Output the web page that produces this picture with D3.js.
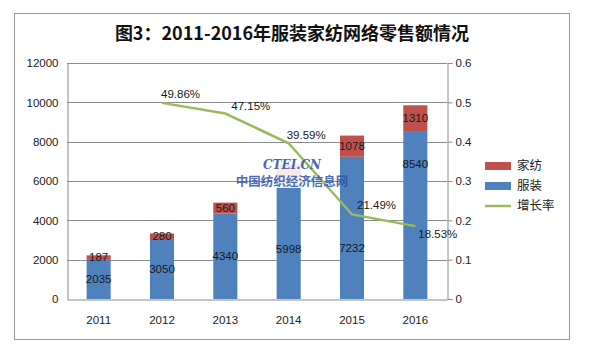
<!DOCTYPE html>
<html><head><meta charset="utf-8">
<script src="https://cdn.jsdelivr.net/npm/d3@7"></script>
<style>body{margin:0;background:#fff}svg{display:block}</style>
</head><body>
<svg id="c" width="591" height="352"></svg>
<script>
const years = ["2011","2012","2013","2014","2015","2016"];
const fuzhuang = [2035, 3050, 4340, 5998, 7232, 8540];
const jiafang = [187, 280, 560, 842, 1078, 1310];
const growthYears = ["2012","2013","2014","2015","2016"];
const growth = [0.4986, 0.4715, 0.3959, 0.2149, 0.1853];
const growthLabels = ["49.86%","47.15%","39.59%","21.49%","18.53%"];
const leftTicks = [0,2000,4000,6000,8000,10000,12000];
const rightTicks = [0,0.1,0.2,0.3,0.4,0.5,0.6];
const title = "图3：2011-2016年服装家纺网络零售额情况";
const legendNames = ["家纺","服装","增长率"];

const svg = d3.select("#c");
const m = {l:67, r:447, t:63, b:299};
const num = "'Liberation Sans', Arial, sans-serif";
const cjk = "'Noto Sans CJK SC', sans-serif";
const cBlue = "#4F81BD", cRed = "#C0504D", cGreen = "#9BBB59", cGrid = "#8c8c8c";

svg.append("rect").attr("x",14.5).attr("y",13.5).attr("width",555).attr("height",326)
  .attr("fill","#fff").attr("stroke","#999").attr("stroke-width",1);

svg.append("text").attr("x",292).attr("y",40).attr("text-anchor","middle")
  .attr("font-family",cjk).attr("font-weight","bold").attr("font-size",18).attr("fill","#111").text(title);

const x = d3.scaleBand().domain(years).range([m.l, m.r]).paddingInner(0.62).paddingOuter(0.31);
const y = d3.scaleLinear().domain([0,12000]).range([m.b, m.t]);
const y2 = d3.scaleLinear().domain([0,0.6]).range([m.b, m.t]);

// gridlines
svg.append("g").selectAll("line").data(leftTicks.filter(d=>d>0)).join("line")
  .attr("x1",m.l).attr("x2",m.r).attr("y1",d=>Math.round(y(d))+0.5).attr("y2",d=>Math.round(y(d))+0.5)
  .attr("stroke",cGrid).attr("stroke-width",1);

// left axis
const ga = svg.append("g").attr("transform",`translate(${m.l+0.5},0)`)
  .call(d3.axisLeft(y).tickValues(leftTicks).tickSize(0).tickPadding(9).tickFormat(d3.format("d")));
ga.select(".domain").attr("stroke",cGrid);
ga.selectAll("text").attr("font-family",num).attr("font-size",11.5).attr("fill","#222");

// right axis
const gr = svg.append("g").attr("transform",`translate(${m.r+0.5},0)`)
  .call(d3.axisRight(y2).tickValues(rightTicks).tickSize(5).tickPadding(3).tickFormat(d=>d===0?"0":d3.format(".1f")(d)));
gr.select(".domain").attr("stroke",cGrid);
gr.selectAll("line").attr("stroke",cGrid);
gr.selectAll("text").attr("font-family",num).attr("font-size",11.5).attr("fill","#222");

// bottom axis
const gb = svg.append("g").attr("transform",`translate(0,${m.b+0.5})`)
  .call(d3.axisBottom(x).tickSize(0).tickPadding(16));
gb.select(".domain").attr("stroke",cGrid);
gb.selectAll("text").attr("font-family",num).attr("font-size",11.5).attr("fill","#222");

// bars
const bars = svg.append("g");
bars.selectAll("rect.fz").data(years).join("rect").attr("class","fz")
  .attr("x",d=>x(d)).attr("width",x.bandwidth())
  .attr("y",(d,i)=>y(fuzhuang[i])).attr("height",(d,i)=>y(0)-y(fuzhuang[i])).attr("fill",cBlue);
bars.selectAll("rect.jf").data(years).join("rect").attr("class","jf")
  .attr("x",d=>x(d)).attr("width",x.bandwidth())
  .attr("y",(d,i)=>y(fuzhuang[i]+jiafang[i])).attr("height",(d,i)=>y(fuzhuang[i])-y(fuzhuang[i]+jiafang[i])).attr("fill",cRed);

// watermark backing
const wm = svg.append("g");
wm.append("rect").attr("x",272).attr("y",152).attr("width",36).attr("height",36).attr("fill","#fff").attr("opacity",0.88);

// line
const line = d3.line().x((d,i)=>x(growthYears[i])+x.bandwidth()/2).y(d=>y2(d));
svg.append("path").datum(growth).attr("d",line).attr("fill","none").attr("stroke",cGreen).attr("stroke-width",2.5);

const wt = svg.append("g");
wt.append("text").attr("x",292).attr("y",169).attr("text-anchor","middle")
  .attr("font-family","'DejaVu Serif', serif").attr("font-style","italic").attr("font-weight","bold")
  .attr("font-size",12).attr("fill","#2b4c9c").attr("opacity",0.85).text("CTEI.CN");
wt.append("text").attr("x",292).attr("y",186).attr("text-anchor","middle")
  .attr("font-family",cjk).attr("font-weight","bold").attr("font-size",12.5)
  .attr("fill","#2f55a8").attr("opacity",0.85).text("中国纺织经济信息网");

// bar labels
const fzShift = [0,0,0,9,20,-51];
svg.append("g").selectAll("text").data(years).join("text")
  .attr("x",d=>x(d)+x.bandwidth()/2).attr("y",(d,i)=>y(fuzhuang[i]/2)+fzShift[i]).attr("dy","0.35em")
  .attr("text-anchor","middle").attr("font-family",num).attr("font-size",11.5).attr("fill","#1a1a1a")
  .text((d,i)=>fuzhuang[i]);
svg.append("g").selectAll("text").data(years).join("text")
  .filter((d,i)=>i!==3)
  .attr("x",d=>x(d)+x.bandwidth()/2).attr("y",d=>{const i=years.indexOf(d);return y(fuzhuang[i]+jiafang[i]/2);}).attr("dy","0.35em")
  .attr("text-anchor","middle").attr("font-family",num).attr("font-size",11.5).attr("fill","#1a1a1a")
  .text(d=>jiafang[years.indexOf(d)]);

// growth labels
const gShiftY = [-9,-8,-8,-9,8];
const gShiftX = [-1,6,-2,5,3];
svg.append("g").selectAll("text").data(growth).join("text")
  .attr("x",(d,i)=>x(growthYears[i])+x.bandwidth()/2+gShiftX[i]).attr("y",(d,i)=>y2(d)+gShiftY[i])
  .attr("dy","0.35em").attr("font-family",num).attr("font-size",11.5).attr("fill","#1a1a1a")
  .text((d,i)=>growthLabels[i]);

// legend
const lg = svg.append("g").attr("transform","translate(485,166)");
legendNames.forEach((n,i)=>{
  const g = lg.append("g").attr("transform",`translate(0,${i*20})`);
  if(i<2) g.append("rect").attr("x",0).attr("y",-4).attr("width",26).attr("height",8).attr("fill",i===0?cRed:cBlue);
  else g.append("line").attr("x1",0).attr("x2",26).attr("y1",0).attr("y2",0).attr("stroke",cGreen).attr("stroke-width",2.5);
  g.append("text").attr("x",32).attr("y",0).attr("dy","0.35em").attr("font-family",cjk).attr("font-size",12.5).attr("fill","#222").text(n);
});
</script>
</body></html>
